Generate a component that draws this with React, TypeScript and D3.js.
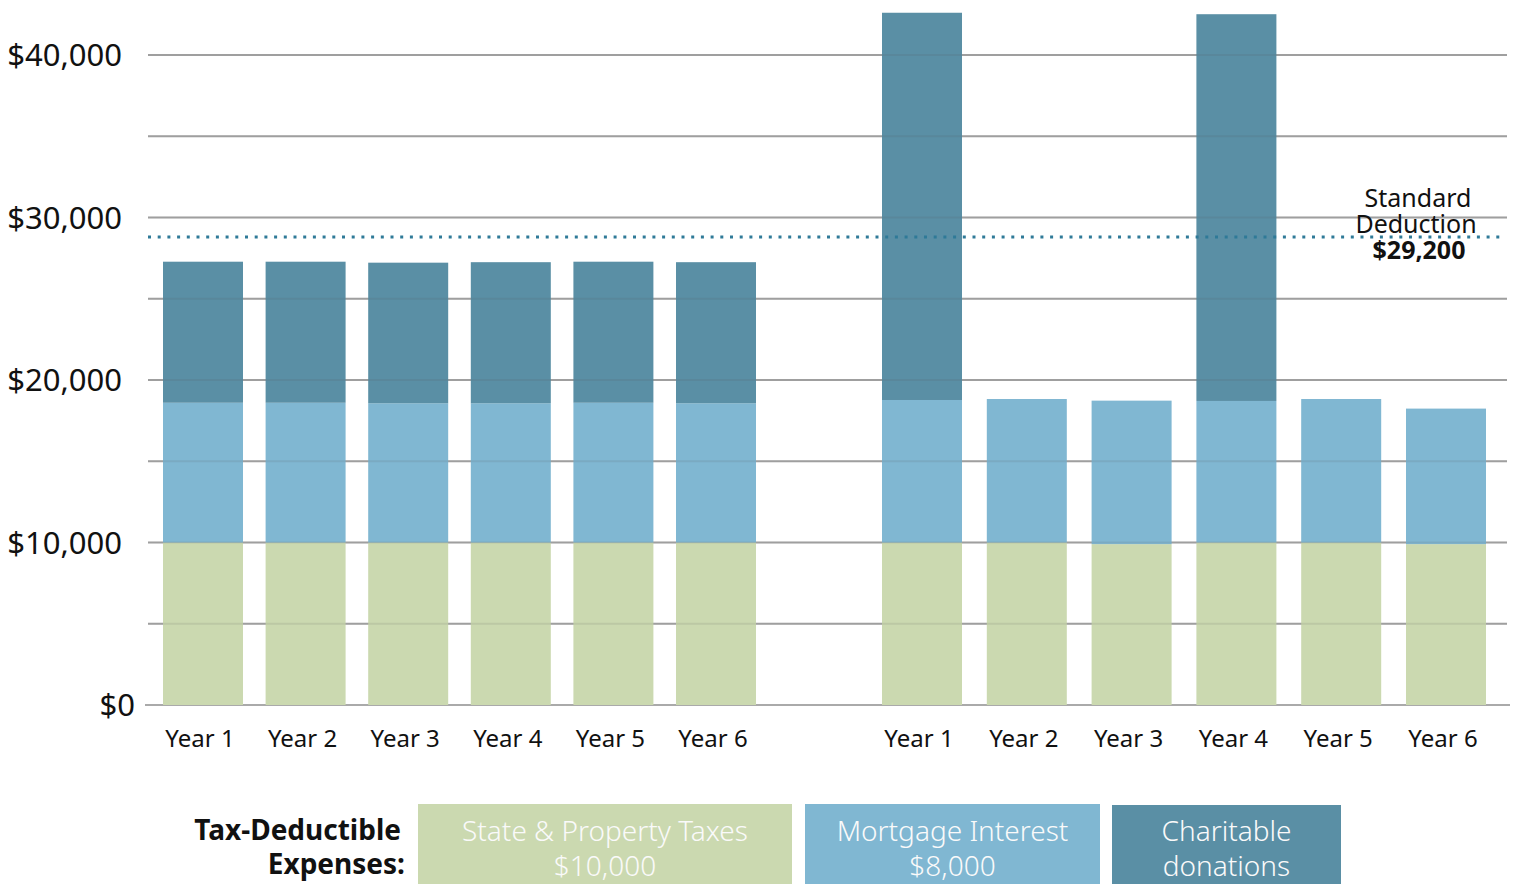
import React from "react";
import * as d3 from "d3";

const leftYears = ["Year 1", "Year 2", "Year 3", "Year 4", "Year 5", "Year 6"];
const rightYears = ["Year 1", "Year 2", "Year 3", "Year 4", "Year 5", "Year 6"];

const leftTaxes = [10000, 10000, 10000, 10000, 10000, 10000];
const leftMortgage = [8600, 8600, 8570, 8570, 8600, 8570];
const leftCharity = [8680, 8680, 8650, 8680, 8680, 8680];

const rightTaxes = [10000, 10000, 9900, 10000, 10000, 9900];
const rightMortgage = [8770, 8830, 8830, 8710, 8830, 8340];
const rightCharity = [23830, 0, 0, 23800, 0, 0];

const yTicks = [0, 10000, 20000, 30000, 40000];
const gridValues = [5000, 10000, 15000, 20000, 25000, 30000, 35000, 40000];

const standardDeductionLabel = "$29,200";
const standardDeductionLine = 28800;

const legendItems = [
  { lines: ["State & Property Taxes", "$10,000"], key: "taxes" },
  { lines: ["Mortgage Interest", "$8,000"], key: "mortgage" },
  { lines: ["Charitable", "donations"], key: "charity" },
];

const COLORS: Record<string, string> = {
  taxes: "#cbd9b0",
  mortgage: "#80b7d2",
  charity: "#5a8fa5",
};

const FONT = "'Noto Sans', sans-serif";

export default function App() {
  const width = 1517;
  const height = 884;
  const y = d3.scaleLinear().domain([0, 40000]).range([705, 55]);
  const xLeft = d3.scaleBand<string>().domain(leftYears.map((d, i) => d + i)).range([163, 756]).paddingInner(0.2203).paddingOuter(0);
  const xRight = d3.scaleBand<string>().domain(rightYears.map((d, i) => d + i)).range([882, 1486]).paddingInner(0.2366).paddingOuter(0);

  const fmt = (v: number) => "$" + d3.format(",")(v);

  const renderGroup = (
    years: string[],
    x: d3.ScaleBand<string>,
    taxes: number[],
    mort: number[],
    charity: number[],
    gk: string
  ) =>
    years.map((yr, i) => {
      const key = yr + i;
      const x0 = x(key)!;
      const bw = x.bandwidth();
      const s = d3.stack<any>().keys(["taxes", "mortgage", "charity"])([
        { taxes: taxes[i], mortgage: mort[i], charity: charity[i] },
      ]);
      return (
        <g key={gk + i}>
          {s.map((layer) => {
            const [a, b] = layer[0];
            if (b - a <= 0) return null;
            return (
              <rect
                key={layer.key}
                x={x0}
                y={y(b)}
                width={bw}
                height={y(a) - y(b)}
                fill={COLORS[layer.key]}
              />
            );
          })}
          <text
            x={x0 + bw / 2 - 3}
            y={747}
            textAnchor="middle"
            fontSize={24}
            fontFamily={FONT}
            fill="#111"
          >
            {yr}
          </text>
        </g>
      );
    });

  return (
    <svg width={width} height={height} style={{ position: "absolute", left: 0, top: 0 }}>
      <rect width={width} height={height} fill="#fff" />
      {gridValues.map((v) => (
        <line key={v} x1={148} x2={1507} y1={y(v)} y2={y(v)} stroke="#aaa" strokeWidth={2} />
      ))}
      <line x1={145} x2={1510} y1={y(0)} y2={y(0)} stroke="#aaa" strokeWidth={2} />
      {renderGroup(leftYears, xLeft, leftTaxes, leftMortgage, leftCharity, "l")}
      {renderGroup(rightYears, xRight, rightTaxes, rightMortgage, rightCharity, "r")}
      {gridValues.map((v) => (
        <line key={"o" + v} x1={148} x2={1507} y1={y(v)} y2={y(v)} stroke="#555" strokeOpacity={0.12} strokeWidth={2} />
      ))}
      {yTicks.map((v) => (
        <text
          key={v}
          x={v === 0 ? 135 : 122}
          y={y(v) + 11}
          textAnchor="end"
          fontSize={31}
          fontFamily={FONT}
          fill="#111"
        >
          {fmt(v)}
        </text>
      ))}
      <line
        x1={148}
        x2={1505}
        y1={y(standardDeductionLine)}
        y2={y(standardDeductionLine)}
        stroke="#2f7a98"
        strokeWidth={3}
        strokeDasharray="3 6.7"
      />
      <text x={1418} y={207} textAnchor="middle" fontSize={25} fontFamily={FONT} fill="#111">
        Standard
      </text>
      <text x={1416} y={233} textAnchor="middle" fontSize={25} fontFamily={FONT} fill="#111">
        Deduction
      </text>
      <text x={1419} y={259} textAnchor="middle" fontSize={25} fontWeight="bold" fontFamily={FONT} fill="#111">
        {standardDeductionLabel}
      </text>

      <text x={401} y={840} textAnchor="end" fontSize={28} fontWeight="bold" fontFamily={FONT} fill="#111">
        Tax-Deductible
      </text>
      <text x={405} y={874} textAnchor="end" fontSize={28} fontWeight="bold" fontFamily={FONT} fill="#111">
        Expenses:
      </text>
      {[
        { x0: 418, x1: 792, y0: 804 },
        { x0: 805, x1: 1100, y0: 804 },
        { x0: 1112, x1: 1341, y0: 805 },
      ].map((b, i) => {
        const item = legendItems[i];
        const cx = (b.x0 + b.x1) / 2;
        return (
          <g key={item.key}>
            <rect x={b.x0} y={b.y0} width={b.x1 - b.x0} height={884 - b.y0} fill={COLORS[item.key]} />
            <text x={cx} y={841} textAnchor="middle" fontSize={28} fontWeight={300} fontFamily={FONT} fill="#fafafa">
              {item.lines[0]}
            </text>
            <text x={cx} y={876} textAnchor="middle" fontSize={28} fontWeight={300} fontFamily={FONT} fill="#fafafa">
              {item.lines[1]}
            </text>
          </g>
        );
      })}
    </svg>
  );
}
